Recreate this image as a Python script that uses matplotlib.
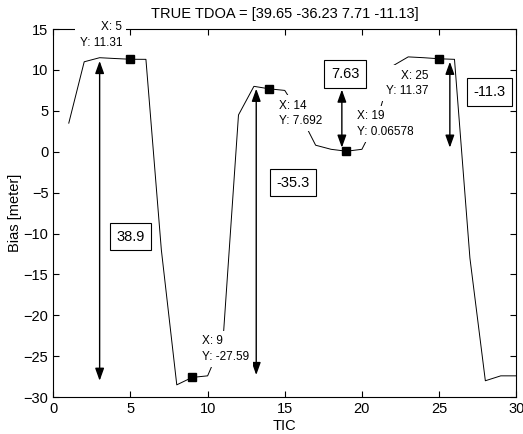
import numpy as np
import matplotlib
matplotlib.use("Agg")
import matplotlib.pyplot as plt

plt.rcParams['font.family'] = ['Liberation Sans', 'DejaVu Sans']

# bias per TIC
tic = np.arange(1, 31)
bias = [3.5, 11.0, 11.5, 11.4, 11.31, 11.3, -12.0, -28.5, -27.59, -27.4,
        -23.0, 4.5, 8.0, 7.692, 7.5, 4.5, 0.8, 0.3, 0.06578, 0.3,
        4.0, 10.5, 11.6, 11.5, 11.37, 11.3, -13.0, -28.0, -27.4, -27.4]

# data tips: x, y, text anchor, alignment
tip_x = [5, 9, 14, 19, 25]
tip_y = [11.31, -27.59, 7.692, 0.06578, 11.37]
tip_pos = [(4.45, 14.3), (9.64, -24.1), (14.64, 4.7), (19.7, 3.36), (24.3, 8.37)]
tip_ha = ['right', 'left', 'left', 'left', 'right']

# double arrows: x, y_top, y_bottom
arr_x = [3.0, 13.15, 18.7, 25.7]
arr_top = [11.1, 7.7, 7.6, 11.0]
arr_bot = [-28.0, -27.3, 0.5, 0.5]

# labelled differences
box_txt = ['38.9', '-35.3', '7.63', '-11.3']
box_pos = [(5.0, -10.4), (15.55, -3.8), (18.9, 9.5), (28.25, 7.3)]

fig = plt.figure(figsize=(5.23, 4.34), dpi=100)
ax = fig.add_axes([0.102, 0.085, 0.885, 0.848])

ax.plot(tic, bias, color='black', linewidth=0.7, zorder=2)
ax.plot(tip_x, tip_y, 's', color='black', markersize=6, zorder=4)

for x, yt, yb in zip(arr_x, arr_top, arr_bot):
    ax.annotate('', xy=(x, yt), xytext=(x, yb),
                arrowprops=dict(arrowstyle='<|-|>,head_length=0.75,head_width=0.27',
                                color='black', lw=1.0, shrinkA=0, shrinkB=0),
                zorder=3)

for (px, py), ha, x, y in zip(tip_pos, tip_ha, tip_x, tip_y):
    ax.text(px, py, 'X: %g\nY: %s' % (x, ('%.4g' % y)), ha=ha, va='center',
            fontsize=8.5, linespacing=1.4, zorder=6, clip_on=False,
            bbox=dict(facecolor='white', edgecolor='none', pad=3))

for t, (px, py) in zip(box_txt, box_pos):
    ax.text(px, py, t, ha='center', va='center', fontsize=10.5, zorder=5,
            bbox=dict(facecolor='white', edgecolor='black', linewidth=0.8,
                      boxstyle='square,pad=0.45'))

ax.set_xlim(0, 30)
ax.set_ylim(-30, 15)
ax.set_xticks(np.arange(0, 31, 5))
ax.set_yticks(np.arange(-30, 16, 5))
ax.tick_params(direction='in', top=True, right=True, length=4, labelsize=10.5)
for s in ax.spines.values():
    s.set_linewidth(0.8)
    s.set_zorder(1)

ax.set_xlabel('TIC', fontsize=10.5, labelpad=2)
ax.set_ylabel('Bias [meter]', fontsize=10.5, labelpad=1)
ax.set_title('TRUE TDOA = [39.65 -36.23 7.71 -11.13]', fontsize=10.5, pad=8)

fig.savefig('out.png', dpi=100)
